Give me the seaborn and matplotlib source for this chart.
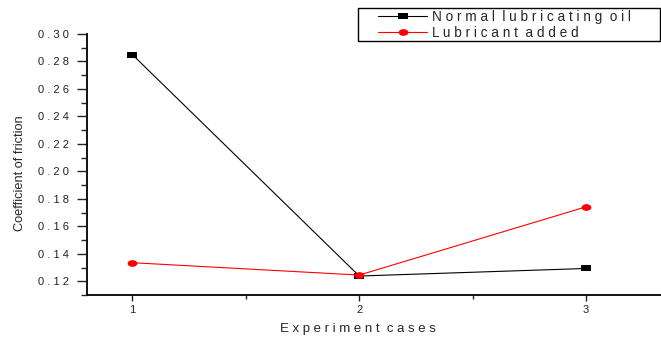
import numpy as np
import pandas as pd
import seaborn as sns
import matplotlib.pyplot as plt
from matplotlib.ticker import MultipleLocator, FixedLocator
from matplotlib.path import Path
from matplotlib.patches import Rectangle

cases = [1, 2, 3]
normal_oil = [0.285, 0.1238, 0.1293]
lubricant_added = [0.1335, 0.1245, 0.1742]
series_names = ["N o r m a l  l u b r i c a t i n g  o i l", "L u b r i c a n t  a d d e d"]
y_ticks = [0.12, 0.14, 0.16, 0.18, 0.20, 0.22, 0.24, 0.26, 0.28, 0.30]

df = pd.DataFrame({
    "case": cases * 2,
    "cof": normal_oil + lubricant_added,
    "series": [series_names[0]] * 3 + [series_names[1]] * 3,
})

# flattened markers like the original export
rect_marker = Path([(-1.6, -1), (1.6, -1), (1.6, 1), (-1.6, 1), (-1.6, -1)])
th = np.linspace(0, 2 * np.pi, 40)
ellipse_marker = Path(np.column_stack([1.45 * np.cos(th), np.sin(th)]))

sns.set_style("ticks")
plt.rcParams["font.family"] = ["Liberation Sans", "DejaVu Sans"]

fig = plt.figure(figsize=(6.61, 3.40), dpi=100)
ax = fig.add_axes([0.1316, 0.1324, 0.8684, 0.7676])

sns.lineplot(data=df, x="case", y="cof", hue="series", style="series",
             palette=["black", "red"],
             markers={series_names[0]: rect_marker, series_names[1]: ellipse_marker},
             dashes=False, markersize=7, markeredgewidth=0, linewidth=0.8, ax=ax)

ax.set_xlim(0.8, 3.33)
ax.set_ylim(0.11, 0.30)
ax.xaxis.set_major_locator(FixedLocator(cases))
ax.xaxis.set_minor_locator(FixedLocator([1.5, 2.5]))
ax.set_xticklabels([str(c) for c in cases])
ax.yaxis.set_major_locator(FixedLocator(y_ticks))
ax.yaxis.set_minor_locator(MultipleLocator(0.01))
ax.set_yticklabels([" . ".join(["0", " ".join(f"{t:.2f}"[2:])]) for t in y_ticks])

ax.tick_params(axis="y", which="major", length=7, width=1, labelsize=8, colors="#222222", pad=6)
ax.tick_params(axis="y", which="minor", length=4, width=1)
ax.tick_params(axis="x", which="major", length=4, width=1, labelsize=8, colors="#222222")
ax.tick_params(axis="x", which="minor", length=3, width=1)

for side in ["top", "right"]:
    ax.spines[side].set_visible(False)
for side in ["left", "bottom"]:
    ax.spines[side].set_linewidth(1.3)
    ax.spines[side].set_color("black")

ax.set_xlabel("E x p e r i m e n t  c a s e s", fontsize=9.5)
ax.xaxis.set_label_coords((358 - 87) / 574, -0.108)
ax.set_ylabel("Coefficient of friction", fontsize=9.2)
ax.yaxis.set_label_coords(-0.106, 0.467)

leg = ax.legend(loc="upper left", bbox_to_anchor=(378 / 661, 1 - 10 / 340), bbox_transform=fig.transFigure,
                frameon=False, fontsize=9.8, handlelength=3.6,
                borderpad=0, labelspacing=0.12, handletextpad=0.35, borderaxespad=0)
leg._legend_box.align = "left"
leg.set_zorder(5)
fig.patches.append(Rectangle((358 / 661, 1 - 41 / 340), 302 / 661, 33 / 340,
                             transform=fig.transFigure, fill=False,
                             edgecolor="black", linewidth=1.0, zorder=6))

fig.savefig("out.png", dpi=100)
